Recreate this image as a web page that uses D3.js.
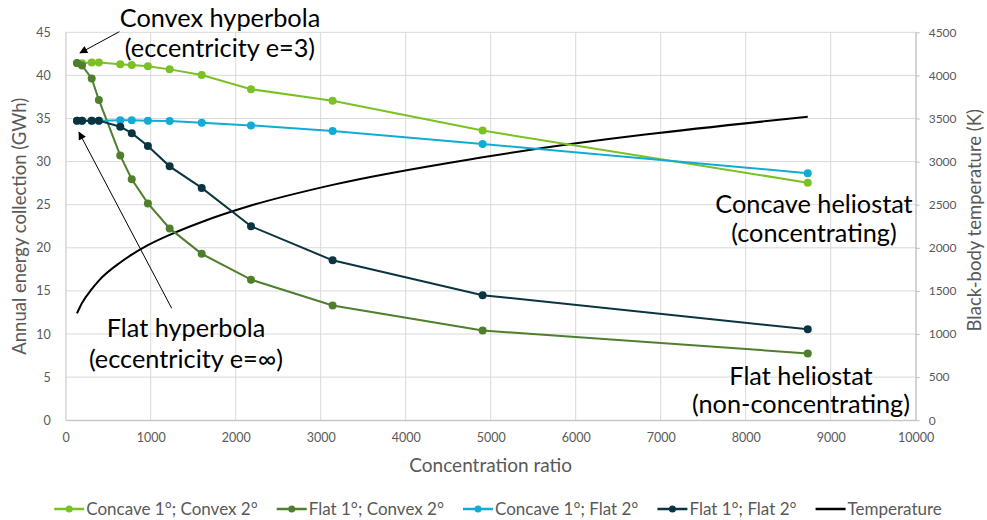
<!DOCTYPE html>
<html>
<head>
<meta charset="utf-8">
<script src="https://cdn.jsdelivr.net/npm/d3@7/dist/d3.min.js"></script>
<style>
  html, body { margin: 0; padding: 0; background: #fff; }
  svg { display: block; font-family: Lato, "Open Sans", sans-serif; }
</style>
</head>
<body>
<svg id="chart" width="987" height="520"></svg>
<script>
// Concentration ratio at each simulated design point
const concentration = [133, 192, 306, 390, 642, 777, 967, 1223, 1600, 2180, 3140, 4905, 8730];

// Annual energy collection (GWh) per heliostat / hyperbola configuration
const concaveConvex = [41.4, 41.4, 41.5, 41.5, 41.3, 41.2, 41.05, 40.7, 40.05, 38.4, 37.05, 33.6, 27.55];
const flatConvex    = [41.45, 41.15, 39.65, 37.15, 30.7, 27.95, 25.15, 22.25, 19.3, 16.3, 13.3, 10.4, 7.75];
const concaveFlat   = [34.75, 34.75, 34.75, 34.75, 34.8, 34.8, 34.75, 34.7, 34.5, 34.2, 33.55, 32.05, 28.65];
const flatFlat      = [34.75, 34.75, 34.75, 34.75, 34.05, 33.3, 31.8, 29.45, 26.95, 22.5, 18.55, 14.5, 10.55];

// Black-body temperature (K), right axis
const temperature = [1240, 1360, 1520, 1620, 1830, 1920, 2030, 2150, 2300, 2490, 2730, 3050, 3520];

const seriesNames  = ["Concave 1°; Convex 2°", "Flat 1°; Convex 2°", "Concave 1°; Flat 2°", "Flat 1°; Flat 2°"];
const seriesValues = [concaveConvex, flatConvex, concaveFlat, flatFlat];
const seriesColors = ["#7ac124", "#4f7f2c", "#10acd4", "#0b3441"];
const tempName = "Temperature";

const xTicks = d3.range(0, 10001, 1000);
const yLeftTicks = d3.range(0, 46, 5);
const yRightTicks = d3.range(0, 4501, 500);

const svg = d3.select("#chart");
const plotL = 65.7, plotR = 915.7, plotT = 32.3, plotB = 420.2;

const x = d3.scaleLinear().domain([0, 10000]).range([plotL, plotR]);
const yL = d3.scaleLinear().domain([0, 45]).range([plotB, plotT]);
const yR = d3.scaleLinear().domain([0, 4500]).range([plotB, plotT]);

const gridColor = "#d9d9d9";
const axisColor = "#bfbfbf";
const labelColor = "#595959";

// Gridlines
const grid = svg.append("g");
grid.selectAll("line.h").data(yLeftTicks).join("line").attr("class", "h")
  .attr("x1", plotL).attr("x2", plotR)
  .attr("y1", d => yL(d)).attr("y2", d => yL(d))
  .attr("stroke", gridColor).attr("stroke-width", 1);
grid.selectAll("line.v").data(xTicks).join("line").attr("class", "v")
  .attr("x1", d => x(d)).attr("x2", d => x(d))
  .attr("y1", plotT).attr("y2", plotB)
  .attr("stroke", gridColor).attr("stroke-width", 1);

// Axes
function styleAxis(g, size) {
  g.selectAll("path.domain").attr("stroke", axisColor);
  g.selectAll(".tick line").attr("stroke", axisColor);
  g.selectAll(".tick text").attr("fill", labelColor)
    .style("font-size", size + "px").style("font-family", "Lato, sans-serif");
}
svg.append("g").attr("transform", `translate(0,${plotB})`)
  .call(d3.axisBottom(x).tickValues(xTicks).tickFormat(d3.format("d")).tickSize(0).tickPadding(13))
  .call(g => styleAxis(g, 12.5));
svg.append("g").attr("transform", `translate(${plotL},0)`)
  .call(d3.axisLeft(yL).tickValues(yLeftTicks).tickSize(0).tickPadding(15))
  .call(g => styleAxis(g, 12.5))
  .call(g => g.select("path.domain").attr("stroke", gridColor));
svg.append("g").attr("transform", `translate(${plotR},0)`)
  .call(d3.axisRight(yR).tickValues(yRightTicks).tickFormat(d3.format("d"))
    .tickSize(4).tickSizeOuter(0).tickPadding(9))
  .call(g => styleAxis(g, 12));

// Axis titles
svg.append("text").attr("x", (plotL + plotR) / 2).attr("y", 472)
  .attr("text-anchor", "middle").attr("fill", labelColor).style("font-size", "19px")
  .text("Concentration ratio");
svg.append("text").attr("transform", `translate(26,${(plotT + plotB) / 2}) rotate(-90)`)
  .attr("text-anchor", "middle").attr("fill", labelColor).style("font-size", "18.5px")
  .text("Annual energy collection (GWh)");
svg.append("text").attr("transform", `translate(981,${(plotT + plotB) / 2 - 6}) rotate(-90)`)
  .attr("text-anchor", "middle").attr("fill", labelColor).style("font-size", "18.5px")
  .text("Black-body temperature (K)");

// Temperature curve (smoothed)
const tempLine = d3.line().x((d, i) => x(concentration[i])).y(d => yR(d)).curve(d3.curveMonotoneX);
svg.append("path").datum(temperature)
  .attr("d", tempLine).attr("fill", "none").attr("stroke", "#000").attr("stroke-width", 2);

// Energy series: straight segments with circular markers
const energyLine = d3.line().x((d, i) => x(concentration[i])).y(d => yL(d));
seriesValues.forEach((vals, s) => {
  const g = svg.append("g");
  g.append("path").datum(vals).attr("d", energyLine)
    .attr("fill", "none").attr("stroke", seriesColors[s]).attr("stroke-width", 2);
  g.selectAll("circle").data(vals).join("circle")
    .attr("cx", (d, i) => x(concentration[i])).attr("cy", d => yL(d))
    .attr("r", 4).attr("fill", seriesColors[s]);
});

// Annotations
const defs = svg.append("defs");
defs.append("marker").attr("id", "arrow").attr("viewBox", "0 0 10 10")
  .attr("refX", 9).attr("refY", 5).attr("markerWidth", 10).attr("markerHeight", 8)
  .attr("markerUnits", "userSpaceOnUse").attr("orient", "auto")
  .append("path").attr("d", "M0,0 L10,5 L0,10 Z").attr("fill", "#000");

function note(lines, cx, y0, lh, size) {
  const t = svg.append("text").attr("text-anchor", "middle").attr("fill", "#000")
    .style("font-size", size + "px");
  lines.forEach((l, i) => t.append("tspan").attr("x", cx).attr("y", y0 + i * lh).text(l));
}
note(["Convex hyperbola", "(eccentricity e=3)"], 220, 27, 30, 25.3);
note(["Flat hyperbola", "(eccentricity e=∞)"], 186, 337, 31, 25.3);
note(["Concave heliostat", "(concentrating)"], 814, 213, 29, 25.3);
note(["Flat heliostat", "(non-concentrating)"], 801, 385, 28, 25.3);

svg.append("line").attr("x1", 119.3).attr("y1", 31.7).attr("x2", x(168)).attr("y2", yL(42.6))
  .attr("stroke", "#000").attr("stroke-width", 1).attr("marker-end", "url(#arrow)");
svg.append("line").attr("x1", 171.7).attr("y1", 308.3).attr("x2", x(156)).attr("y2", yL(33.4))
  .attr("stroke", "#000").attr("stroke-width", 1).attr("marker-end", "url(#arrow)");

// Legend
const legendItems = seriesNames.map((n, i) => ({ name: n, color: seriesColors[i], marker: true }))
  .concat([{ name: tempName, color: "#000", marker: false }]);
const legend = svg.append("g");
let cursor = 0;
legendItems.forEach(item => {
  const g = legend.append("g").attr("transform", `translate(${cursor},0)`);
  g.append("line").attr("x1", 0).attr("x2", 30).attr("y1", 0).attr("y2", 0)
    .attr("stroke", item.color).attr("stroke-width", 2.5);
  if (item.marker) g.append("circle").attr("cx", 15).attr("cy", 0).attr("r", 3.5).attr("fill", item.color);
  const t = g.append("text").attr("x", 32).attr("y", 0).attr("dy", "0.35em")
    .attr("fill", labelColor).style("font-size", "17px").text(item.name);
  cursor += 32 + t.node().getComputedTextLength() + 19;
});
const totalW = cursor - 19;
legend.attr("transform", `translate(${498 - totalW / 2},509)`);
</script>
</body>
</html>
